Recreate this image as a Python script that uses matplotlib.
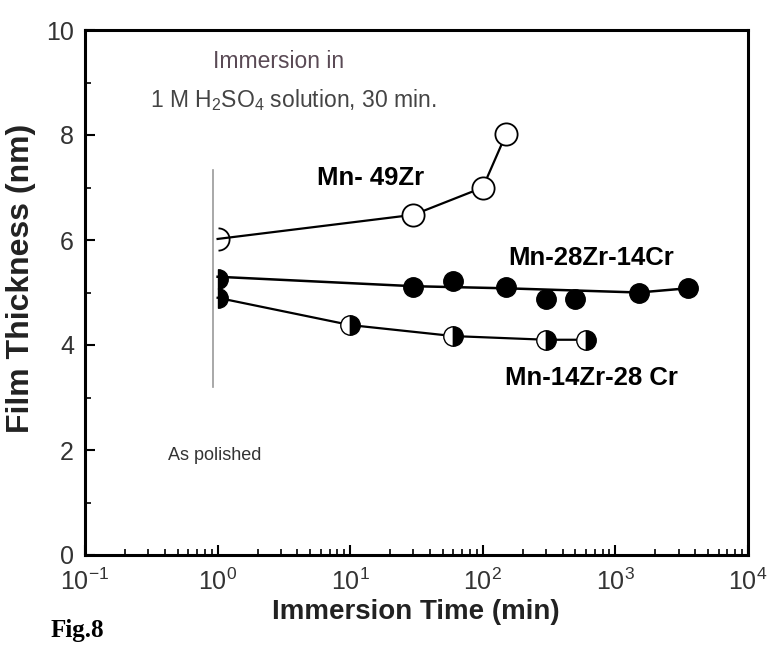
import math
import matplotlib
matplotlib.use("Agg")
import matplotlib.pyplot as plt
from matplotlib.path import Path
from matplotlib.ticker import FixedLocator, FuncFormatter, LogLocator, NullFormatter

plt.rcParams['font.family'] = ['Liberation Sans', 'DejaVu Sans']
plt.rcParams['mathtext.fontset'] = 'custom'
plt.rcParams['mathtext.rm'] = 'Liberation Sans'
plt.rcParams['mathtext.it'] = 'Liberation Sans'

# Mn-49Zr (open circles)
t_49zr = [1, 30, 100, 150]
d_49zr = [6.02, 6.48, 7.0, 8.02]

# Mn-28Zr-14Cr (filled circles) and its guide line
t_28zr = [1, 30, 60, 150, 300, 500, 1500, 3500]
d_28zr = [5.25, 5.1, 5.22, 5.1, 4.87, 4.87, 4.99, 5.08]
t_28zr_line = [1, 30, 150, 1500, 3500]
d_28zr_line = [5.3, 5.12, 5.08, 5.0, 5.08]

# Mn-14Zr-28Cr (half filled circles)
t_14zr = [1, 10, 60, 300, 600]
d_14zr = [4.9, 4.38, 4.17, 4.1, 4.1]

# "As polished" marker line
polish_t = 0.92
polish_d = [3.2, 7.33]

fig = plt.figure(figsize=(7.69, 6.45), dpi=100)
ax = fig.add_axes([85 / 769, 1 - 555 / 645, 663 / 769, 525 / 645])

right_half = Path.arc(-90, 90)
right_wedge = Path.wedge(-90, 90)

ax.plot([polish_t, polish_t], polish_d, color='#999999', lw=1.2, zorder=1)

ax.plot(t_49zr, d_49zr, color='black', lw=1.6, zorder=2)
ax.plot(t_49zr[1:], d_49zr[1:], 'o', ms=16, mfc='white', mec='black', mew=1.3, zorder=3)
ax.plot(t_49zr[:1], d_49zr[:1], ls='none', marker=right_half, ms=16, mfc='none', mec='black', mew=1.3, zorder=3)

ax.plot(t_28zr_line, d_28zr_line, color='black', lw=1.8, zorder=2)
ax.plot(t_28zr[1:], d_28zr[1:], 'o', ms=14, mfc='black', mec='black', zorder=3)
ax.plot(t_28zr[:1], d_28zr[:1], ls='none', marker=right_wedge, ms=14, mfc='black', mec='black', zorder=3)

ax.plot(t_14zr, d_14zr, color='black', lw=1.6, zorder=2)
ax.plot(t_14zr[1:], d_14zr[1:], 'o', ms=14, fillstyle='left', mfc='white', mfcalt='black',
        mec='black', mew=1.0, zorder=3)
ax.plot(t_14zr[:1], d_14zr[:1], ls='none', marker=right_wedge, ms=14, mfc='black', mec='black', zorder=3)

ax.set_xscale('log')
ax.set_xlim(0.1, 1e4)
ax.set_ylim(0, 10)

ax.xaxis.set_major_locator(LogLocator(base=10, numticks=10))
ax.xaxis.set_minor_locator(LogLocator(base=10, subs=range(2, 10), numticks=20))
ax.xaxis.set_minor_formatter(NullFormatter())
ax.xaxis.set_major_formatter(FuncFormatter(lambda v, p: r'$10^{%d}$' % round(math.log10(v))))
ax.yaxis.set_major_locator(FixedLocator([0, 2, 4, 6, 8, 10]))
ax.yaxis.set_minor_locator(FixedLocator([1, 3, 5, 7, 9]))

ax.tick_params(which='both', direction='in', top=False, right=False, color='black')
ax.tick_params(which='major', length=7, width=1.5, labelsize=18, labelcolor='#333333')
ax.tick_params(axis='x', which='major', pad=10)
ax.tick_params(axis='y', which='major', pad=8)
ax.tick_params(which='minor', length=4, width=1.2)
for s in ax.spines.values():
    s.set_linewidth(2.2)

fig.text(416 / 769, 1 - 612 / 645, 'Immersion Time (min)', ha='center', va='center',
         fontsize=20, fontweight='bold', color='#222222')
fig.text(21 / 769, 1 - 278 / 645, 'Film Thickness (nm)', ha='center', va='center',
         rotation=90, fontsize=23, fontweight='bold', color='#222222')

fig.text(213 / 769, 1 - 62 / 645, 'Immersion in', ha='left', va='center', fontsize=16.5, color='#5a4a55')
fig.text(150 / 769, 1 - 100 / 645, r'1 M H$_2$SO$_4$ solution, 30 min.', ha='left', va='center',
         fontsize=16.5, color='#444444')
fig.text(317 / 769, 1 - 178 / 645, 'Mn- 49Zr', ha='left', va='center', fontsize=18.5, fontweight='bold')
fig.text(508 / 769, 1 - 258 / 645, 'Mn-28Zr-14Cr', ha='left', va='center', fontsize=18.5, fontweight='bold')
fig.text(505 / 769, 1 - 378 / 645, 'Mn-14Zr-28 Cr', ha='left', va='center', fontsize=18.5, fontweight='bold')
fig.text(168 / 769, 1 - 455 / 645, 'As polished', ha='left', va='center', fontsize=13, color='#333333')
fig.text(51 / 769, 1 - 630 / 645, 'Fig.8', ha='left', va='center', fontsize=18, fontweight='bold',
         family='Liberation Serif')

fig.savefig('out.png', dpi=100)
